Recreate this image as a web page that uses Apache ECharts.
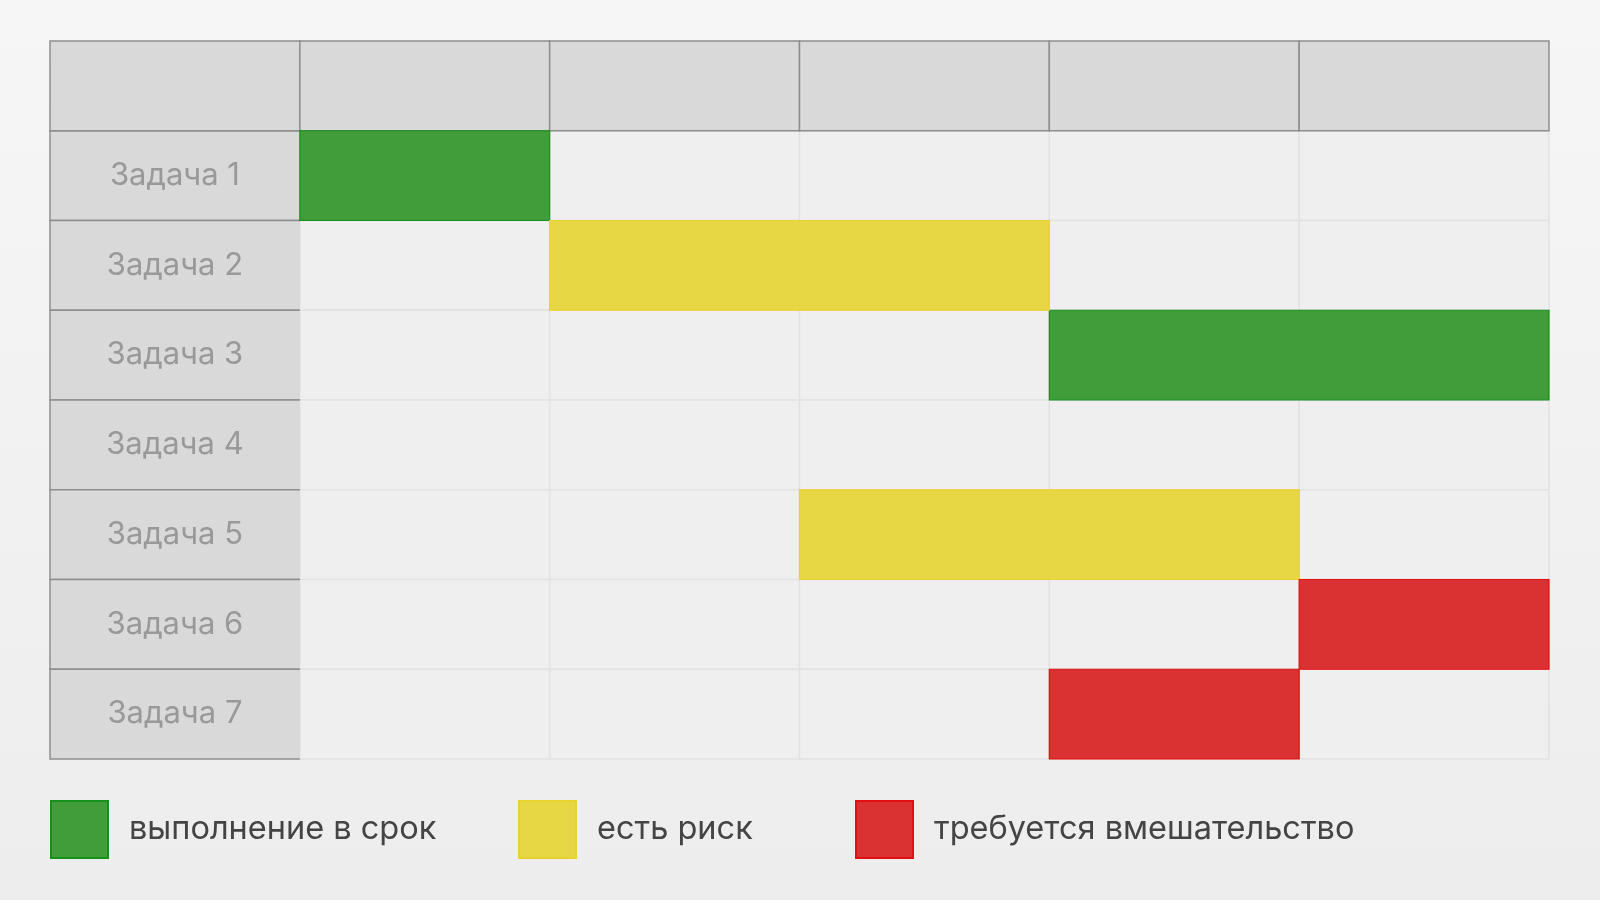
<!DOCTYPE html>
<html>
<head>
<meta charset="utf-8">
<script src="https://cdn.jsdelivr.net/npm/echarts@6/dist/echarts.min.js"></script>
<style>
html,body{margin:0;padding:0;background:#f2f2f2;}
#chart{width:1600px;height:900px;}
</style>
</head>
<body>
<div id="chart"></div>
<script>
// ---- data ----
const columnLabels = ['', '', '', '', ''];           // header row (empty in the reference)
const tasks = ['Задача 1', 'Задача 2', 'Задача 3', 'Задача 4', 'Задача 5', 'Задача 6', 'Задача 7'];
const statusNames = ['выполнение в срок', 'есть риск', 'требуется вмешательство'];
const taskStart = [0, 1, 3, null, 2, 4, 3];
const taskEnd   = [1, 3, 5, null, 4, 5, 4];
const taskStatus = [0, 1, 0, null, 1, 2, 2];

// ---- styles ----
const FONT = 'Inter, "Noto Sans", sans-serif';
const statusFill = ['#419c3a', '#e8d744', '#da3233'];
const statusBorder = ['#17901a', '#e8d22c', '#e30f10'];
const legendLefts = [50, 518, 855];

const rows = [''].concat(tasks);
const nCols = columnLabels.length;

// cells: [col, row, kind, text]  kind 0=header,1=label,2=body
const cellData = [];
for (let r = 0; r < rows.length; r++) {
  for (let c = -1; c < nCols; c++) {
    let kind = r === 0 ? 0 : (c === -1 ? 1 : 2);
    let text = r === 0 ? (c >= 0 ? columnLabels[c] : '') : (c === -1 ? rows[r] : '');
    cellData.push([c, r, kind, text]);
  }
}
const bodyCells = cellData.filter(d => d[2] === 2);
const labelCells = cellData.filter(d => d[2] === 1);
const headerCells = cellData.filter(d => d[2] === 0);

function renderCell(params, api) {
  const c = api.value(0), r = api.value(1), kind = api.value(2);
  const text = cellsByIndex[params.seriesIndex][params.dataIndex][3];
  const p = api.coord([c, r]);
  const s = api.size([1, 1]);
  const x = p[0], y = p[1] - s[1] / 2, w = s[0], h = s[1];
  if (kind === 2) {
    return {type: 'rect', shape: {x, y, width: w, height: h},
      style: {fill: '#efefef', stroke: '#e2e2e2', lineWidth: 1.5}};
  }
  if (kind === 1) {
    return {type: 'group', children: [
      {type: 'rect', shape: {x, y, width: w, height: h}, style: {fill: '#d9d9d9'}},
      {type: 'polyline', shape: {points: [[x + w, y], [x, y], [x, y + h], [x + w, y + h]]},
        style: {fill: null, stroke: '#8e8e8e', lineWidth: 1.5}},
      {type: 'text', style: {text, x: x + w / 2, y: y + h / 2, align: 'center', verticalAlign: 'middle',
        fill: '#999999', font: '31px ' + FONT}}
    ]};
  }
  return {type: 'group', children: [
    {type: 'rect', shape: {x, y, width: w, height: h},
      style: {fill: '#d9d9d9', stroke: '#8e8e8e', lineWidth: 1.5}},
    {type: 'text', style: {text, x: x + w / 2, y: y + h / 2, align: 'center', verticalAlign: 'middle',
      fill: '#666', font: '24px ' + FONT}}
  ]};
}
const cellsByIndex = [bodyCells, labelCells, headerCells];

function renderTask(params, api) {
  const a = api.coord([api.value(0), api.value(2)]);
  const b = api.coord([api.value(1), api.value(2)]);
  const h = api.size([1, 1])[1];
  return {type: 'rect', shape: {x: a[0], y: a[1] - h / 2, width: b[0] - a[0], height: h},
    style: api.style()};
}

const series = [
  {type: 'custom', name: 'body', renderItem: renderCell, data: bodyCells, encode: {x: 0, y: 1}, z: 1, silent: true},
  {type: 'custom', name: 'labels', renderItem: renderCell, data: labelCells, encode: {x: 0, y: 1}, z: 2, silent: true},
  {type: 'custom', name: 'header', renderItem: renderCell, data: headerCells, encode: {x: 0, y: 1}, z: 3, silent: true}
];
statusNames.forEach((name, si) => {
  const data = [];
  tasks.forEach((t, i) => {
    if (taskStatus[i] === si) data.push([taskStart[i], taskEnd[i], i + 1]);
  });
  series.push({
    type: 'custom', name, renderItem: renderTask, data, encode: {x: [0, 1], y: 2}, z: 5,
    itemStyle: {color: statusFill[si], borderColor: statusBorder[si], borderWidth: 1.2}
  });
});

const chart = echarts.init(document.getElementById('chart'), null, {renderer: 'canvas'});
chart.setOption({
  animation: false,
  backgroundColor: {type: 'linear', x: 0, y: 0, x2: 0, y2: 1,
    colorStops: [{offset: 0, color: '#f6f6f6'}, {offset: 1, color: '#ededed'}]},
  grid: {left: 50, right: 51, top: 41, bottom: 141},
  xAxis: {type: 'value', min: -1, max: nCols, interval: 1, show: false},
  yAxis: {type: 'category', data: rows, inverse: true, show: false},
  legend: statusNames.map((n, i) => ({
    data: [{name: n, icon: 'rect'}], left: legendLefts[i], top: 800, padding: 0,
    itemWidth: 57, itemHeight: 57, selectedMode: false,
    textStyle: {fontSize: 32.5, color: '#444', fontFamily: FONT, padding: [0, 0, 0, 16]}
  })),
  series
});
</script>
</body>
</html>
